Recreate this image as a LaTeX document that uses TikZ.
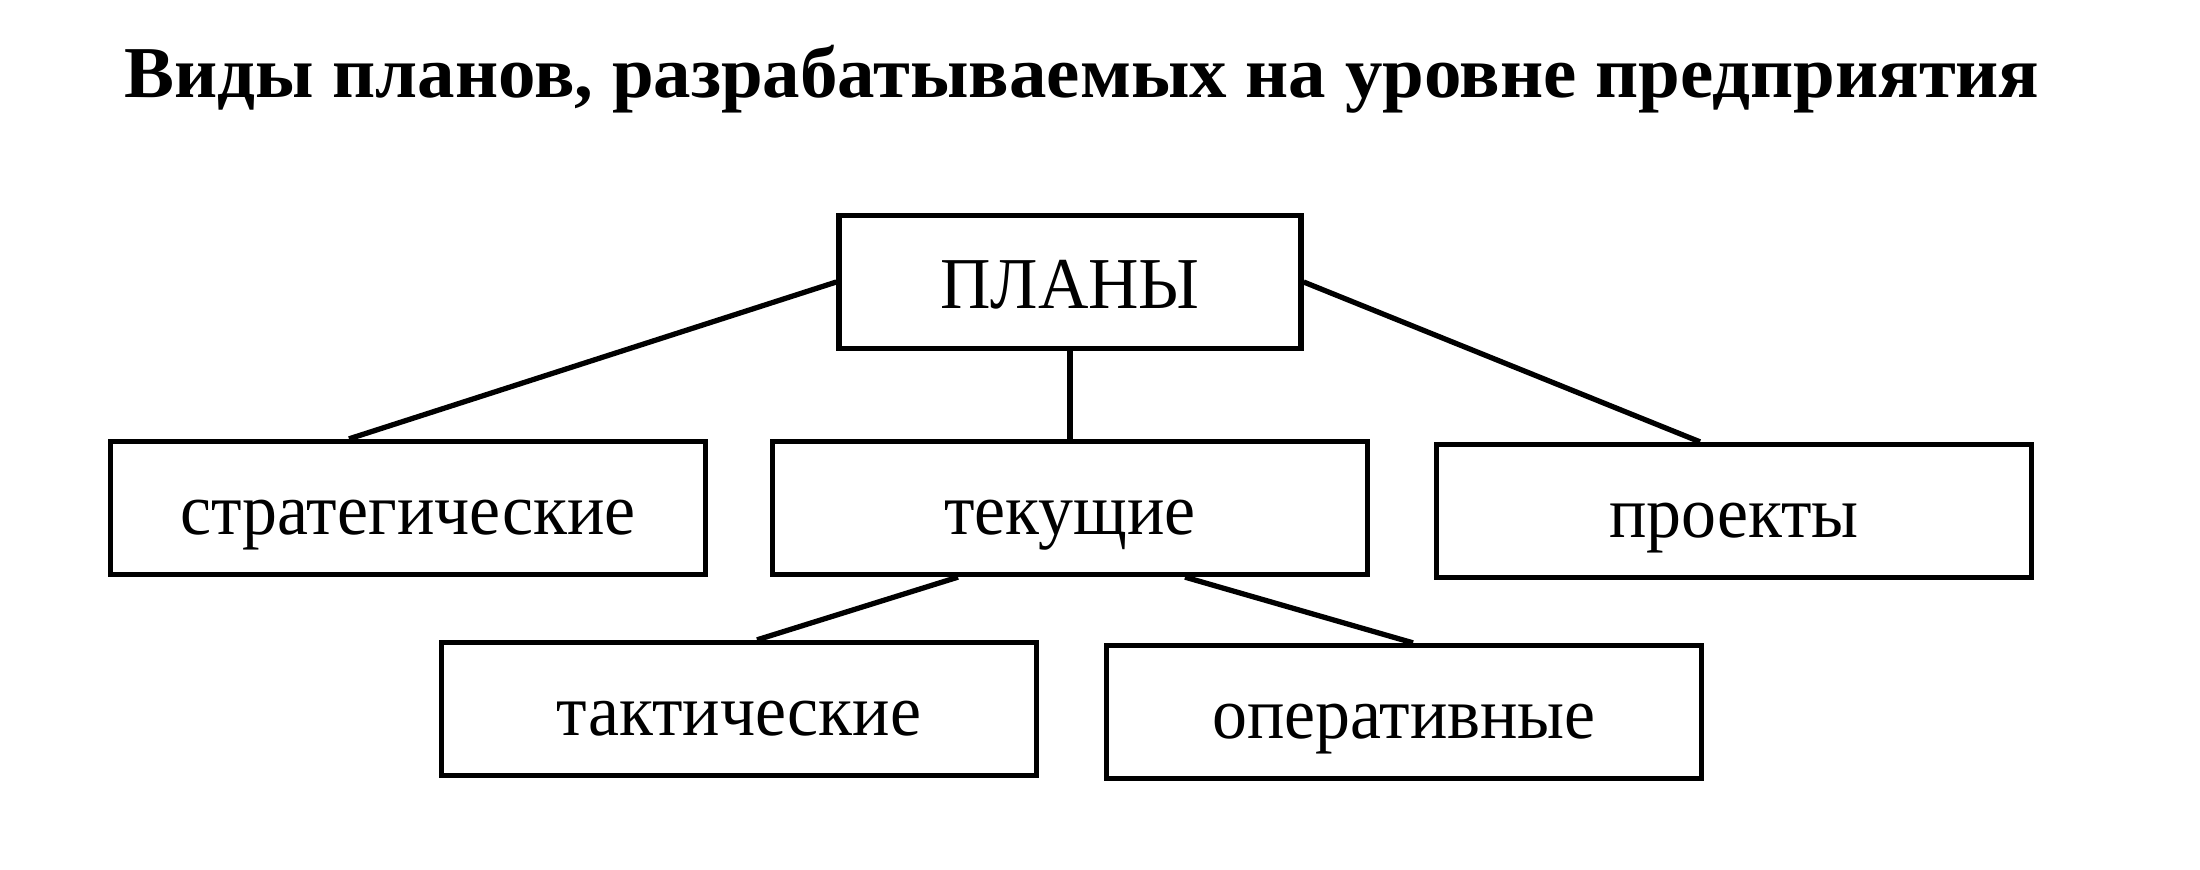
\documentclass[tikz,border=0pt]{standalone}
\usepackage{fontspec}
\setmainfont{Liberation Serif}
\newfontfamily\boxfont{Liberation Serif}[FakeStretch=0.955]
\newfontfamily\titlefont{Liberation Serif}[FakeStretch=1.025]
\usepackage{tikz}
\usetikzlibrary{positioning}

\begin{document}
\begin{tikzpicture}[node distance=2.26cm, line width=1.5pt,
    planbox/.style={draw, rectangle, text centered, inner sep=0pt, text height=0.6cm, text depth=0.06cm, minimum height=1.33cm, minimum width=5.95cm, font=\boxfont\fontsize{20.8pt}{24pt}\selectfont}]

    % Page frame
    \fill[white] (0,0) rectangle (22,-8.7);
    \useasboundingbox (0,0) rectangle (22,-8.7);

    % Title
    \node (title) [anchor=base, font=\titlefont\bfseries\fontsize{20.8pt}{24pt}\selectfont] at (10.82,-0.98) {Виды планов, разрабатываемых на уровне предприятия};

    % Nodes for plans and their kinds
    \node (plany) [planbox, minimum width=4.62cm] at (10.7,-2.82) {ПЛАНЫ};

    % Nodes for kinds below plany, aligned horizontally
    \node (tekushchie) [planbox, below of=plany] {текущие};
    \node (strategicheskie) [planbox, below of=plany, xshift=-6.62cm] {стратегические};
    \node (proekty) [planbox, below of=plany, xshift=6.64cm, yshift=-0.03cm] {проекты};

    % Nodes for kinds below tekushchie
    \node (takticheskie) [planbox, below of=tekushchie, xshift=-3.31cm, yshift=0.25cm] {тактические};
    \node (operativnye) [planbox, below of=tekushchie, xshift=3.34cm, yshift=0.22cm] {оперативные};

    % Draw lines from plany to each kind
    \draw (plany.west) -- ([xshift=-0.59cm]strategicheskie.north);
    \draw (plany.south) -- (tekushchie.north);
    \draw (plany.east) -- ([xshift=-0.34cm]proekty.north);

    % Draw lines from tekushchie to its kinds
    \draw ([xshift=-1.12cm]tekushchie.south) -- ([xshift=0.18cm]takticheskie.north);
    \draw ([xshift=1.15cm]tekushchie.south) -- ([xshift=0.09cm]operativnye.north);

\end{tikzpicture}
\end{document}
